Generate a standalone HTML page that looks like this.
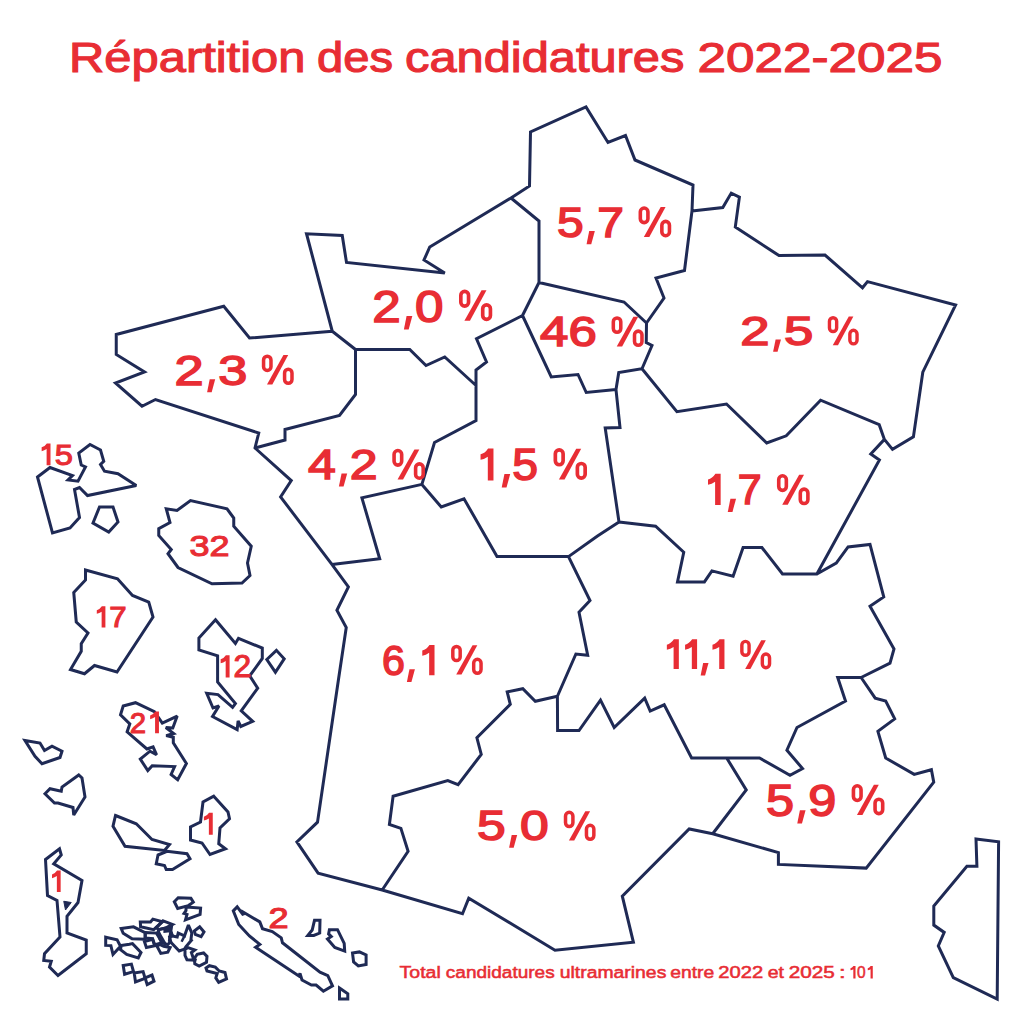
<!DOCTYPE html>
<html><head><meta charset="utf-8"><style>
html,body{margin:0;padding:0;background:#fff;width:1024px;height:1024px;overflow:hidden}
svg{display:block}
</style></head><body>
<svg width="1024" height="1024" viewBox="0 0 1024 1024">
<rect width="1024" height="1024" fill="#fff"/>
<g fill="none" stroke="#1f2a55" stroke-width="3.0" stroke-linejoin="miter" stroke-miterlimit="2.5">
<polygon points="976,839 998.6,841.75 997.2,999 953.3,977.7 938.3,946 944.2,932.4 933.8,925.1 933.8,906.1 966.9,866.2 976.9,866.2"/>
<polygon points="37.5,477 50,467.5 72.5,475.5 68,480 78,481.25 85.5,467 81.25,465 78.75,453 90,444.5 100.5,450 103.75,461.25 100.5,464.5 104.5,471.25 118,473.75 136.25,485.5 87.5,495.5 79.5,487.5 74.5,489.5 79.5,517.5 70,528 52.5,533"/>
<polygon points="93,523 99.5,507 113,507 118,522 108.75,532"/>
<polygon points="166.25,508.75 170,522.5 158.75,528.75 158.75,535.5 171.25,549.5 168,553.75 178,567.5 212,583.75 242,583 250,575.5 247.5,563 251.25,546.25 233.75,526.25 233.75,518 227,508.75 190.5,500.5 177,510.5"/>
<polygon points="85.5,570 85.5,580 73.75,592.5 76.25,622 88,633 81.25,643.75 81.25,651.25 70.5,669.5 84.5,673.75 94.5,665.5 117,672 153,617 148.75,602 132.5,595.5 117.5,578.75"/>
<polygon points="215.5,619.8 235.4,643.5 238.5,638.3 262.3,648.1 262.3,658.5 249.7,675.9 257.7,688.2 241.25,710.75 252.7,721.4 240.8,726.5 238.1,721 237.15,729.6 212.5,716.5 219,706 213,708 206.7,693.25 218,694.6 232.6,707.3 235.4,703.6 217.6,682 217.6,655.8 198.9,650 198.9,638"/>
<polygon points="266.8,659.5 276.4,650.3 284.2,658.8 275.4,672.2"/>
<polygon points="123.2,706 135.5,702.7 154.4,711.7 162.3,723.1 177.2,716.1 172.8,728 165.8,727.5 173.7,733.5 166.2,735.6 173.3,737.2 173.3,742.9 186.4,763.5 177.7,779.8 171.1,774.5 174.6,766.6 152.2,765.7 147.8,770.6 140.3,759.1 150,751.2 156.6,754.8 153.1,746.8 146.9,749 127.1,731.9 129.8,724 120.5,714.8"/>
<polygon points="25,740.5 40,743 44.5,750.5 52,746.25 62,751.25 60,757.5 42,763.75 35,756.25"/>
<polygon points="45,793.75 50,788.75 61.25,791.25 62,787 78.75,775 82,778 85,797 73.75,815 73,807.5 58,803 54.5,803"/>
<polygon points="115.5,815.5 136.25,823.75 152,839.5 169.5,844.5 164.5,850.5 125,846.25 113,826.25"/>
<polygon points="158,855 167,851.25 187,853.75 190,858.75 172.5,869.5 166.25,869.5 164.5,865.5 156.25,863.75"/>
<polygon points="213.75,796.25 228,812 229.5,818.75 220,828 218.75,843.75 225.5,848.75 210,854.5 202,843 190.5,840 190.5,827 200.5,822 203,802"/>
<polygon points="45.5,859.5 59.5,848.75 61.25,855 53.75,863.75 82,880.5 78,902.5 67,916.25 67,933 86.25,940 86.25,953.75 58,975.5 49.5,967 51.25,961.25 43.75,960.5 44.5,953.75 60,937 57,900.5 47.5,895.5"/>
<polygon points="233.3,910.9 237.2,906.9 243.4,915.2 243.1,912 259.8,921.9 262.5,928.75 272.3,931.6 281.25,937.8 282.5,942.8 320,972.2 327.8,975.6 332.5,985.9 323.4,991.25 316.1,985 311.4,985 302,980 300,973.4 298.9,976.1 255.6,947.2 259.8,944.4 249.4,935.9 238.75,924.5"/>
<polygon points="314.5,920.3 320,920.3 319.7,933.1 313.75,935.5 307.8,935.5 312.2,930"/>
<polygon points="329.4,929.7 337.5,929.7 344.2,943.3 344.7,951.1 334.8,947.5 327.5,939 331.25,936.6 328.6,933.9"/>
<polygon points="352.5,953.1 359.4,951.9 366.1,955 366.1,964.4 358.3,965.9 353.6,962"/>
<polygon points="339.5,988.1 347.8,993.75 347.8,999 339.5,999"/>
<polygon points="174.3,901.7 178.2,897.8 190.9,898.3 193.3,902.2 188.4,905.6 177.7,908.5"/>
<polygon points="186,907.1 200.6,908.1 200.1,914.4 185.5,919.8 187,914.4 184,913.4 186,910.5"/>
<polygon points="105.7,937.2 117.1,939.9 120.5,946.3 113,954.5 110.9,945.6 105.7,945.4"/>
<polygon points="121.2,945.6 129.4,944.3 132.5,943.6 141,952.5 138.3,957.9 126.7,954.5 120.5,949.7"/>
<polygon points="121.2,928.5 133.5,926.8 145.1,932.6 145.1,939.3 132.1,938.8 123.2,933.3"/>
<polygon points="140.3,922 150.5,922 152.9,919.1 162.5,921.7 153.7,929.6 140.6,926.7"/>
<polygon points="163.1,920.8 172.5,924.4 166,927.9 158.4,929.6 156.4,927.6"/>
<polygon points="145.3,932.6 156.4,933.1 159.3,937.8 162,942.8 154.3,944.9 152.6,938.7 145.3,938.1"/>
<polygon points="144.4,941.6 152.6,939.3 155.2,945.7 146.4,947.5"/>
<polygon points="156.7,945.7 160.2,944.6 163.7,946.3 170.1,947.5 167.8,952.2 160.8,953.4"/>
<polygon points="158.4,929.6 164.9,928.2 164.9,931.4 170.1,930.8 172.5,935.8 169.6,937 170.7,941.6 167.8,944.6 162,942.8 159.3,937.8"/>
<polygon points="169.4,940.8 179.2,951 184.5,949.1 186,946.6 191.4,940.3 190.9,939.8 191.8,933 188.4,925.1 184.5,935.9 178.2,933 177.2,936.9 172.3,935.9 170.9,931 166,929 171.8,924.7"/>
<polygon points="194.3,931 199.7,926.9 204,932 201.1,936.7 195.3,934.4"/>
<polygon points="185,949.6 188,947.6 194.8,950 191.4,952.5 193.3,958.3 196.2,960.3 187,959.8 185,955.4"/>
<polygon points="194.3,958.3 197.2,954.4 203.6,953 207,956.4 206.5,962.2 199.2,966.1 194.8,963.7"/>
<polygon points="206,968.1 209.4,965.7 215.3,967.1 219.2,971 225,972.5 226.5,978.8 218.7,982.3 215.8,977.9 217.2,973.5 207,971"/>
<polygon points="123.2,965.4 131.4,964.1 133.5,971.6 124.6,974.3"/>
<polygon points="134.2,973 143.1,971.6 145.1,978.4 135.5,981.9"/>
<polygon points="145.1,977.8 152,975 154,981.2 147.2,984.6"/>
<path d="M511,198 L529.5,186 L530.5,132 L586,107 L608,142.5 L625.5,135.5 L635,160 L693,185 L692,211 L684.5,270.5 L656,278 L664,298 L646.5,323 M511,198 L539,221 L539,282.5 M539,282.5 L624,302 L646.5,323 M511,198 L429.75,247 L424,260 L444.75,273 L346.5,262.5 L342.25,235.5 L306.5,233.75 L332.25,331.25 M332.25,331.25 L355.5,349.5 M355.5,349.5 L409.75,349.5 L426,365.5 L444.75,357 L476,385.5 M476,385.5 L476,370 L486.5,362 L476.5,338.75 L522.5,315.5 M522.5,315.5 L539,282.5 M332.25,331.25 L249.5,338 L223.75,306.25 L116.25,334.5 L116.25,354.5 L144.5,372 L115.5,383 L142,406.25 L155.5,399.5 L258.75,433 L255,448 M255,448 L285,440 L285,429.5 L339.5,415.5 L355.5,394.5 L355.5,349.5 M255,448 L291.25,480.6 L280.6,496.9 L331.9,564.4 M331.9,564.4 L379.7,558.75 L361.9,497.8 L421.9,484.4 M476,385.5 L476,420.5 L434.5,442.5 L421.9,484.4 M522.5,315.5 L551.25,377 L578,374.5 L586.25,392.5 L616,389.6 M646.5,323 L646.25,342.5 L652,345.5 L642,368.75 L618.75,372.5 L616,389.6 M616,389.6 L620,427.6 L605.2,428 L619,522 M619,522 L597.5,536 L568.5,556.6 M568.5,556.6 L497,556.6 L464,498.75 L441.25,507 L421.9,484.4 M692,211 L722.8,207.5 L731.25,193.1 L739.4,197.2 L735.3,226.9 L779,255.6 L825,255 L862.5,287.8 L867.5,281.6 L955.6,305 L922.8,372.2 L913.4,436.9 L892.5,449.4 L884.4,439.4 M642,368.75 L676.9,411.7 L726.5,404 L766.7,443 L786.25,435.8 L820.6,400.2 L879.2,424.7 L884.4,439.4 M884.4,439.4 L870.8,453.9 L879.4,460 L816.9,574 M619,522 L655.6,526.25 L683.75,552.2 L677.5,581.9 L704.4,581.9 L711.9,570.9 L733.1,576.25 L743.1,547.5 L761.9,547.5 L782.5,574 L816.9,574 M816.9,574 L836.25,563.1 L848.1,546.9 L870,544.4 L883.75,596.9 L870,606.25 L894,649 L890,663.1 L861.1,677.5 M861.1,677.5 L837.7,677.5 L845.5,701 L797,727.5 L786.9,750.2 L802.5,768.5 L790,775.2 L759.5,758 L726.7,758 M861.1,677.5 L875.2,698.2 L885.7,701 L894.7,718.9 L877.9,731.4 L885.7,758 L914.2,774.4 L931.4,769.7 L933.75,782.2 L866.2,868.1 L778.4,864.4 L778.4,852.6 L712.7,833.75 M726.7,758 L746.25,790 L712.7,833.75 M712.7,833.75 L689.2,829 L622.3,896.2 L633.4,942.3 L555,950.3 L468.75,898.1 L462.5,913.75 L382.2,890 M382.2,890 L408.1,851.25 L400.9,828.4 L389.4,824.4 L393.1,796.25 L447.8,780.6 L458.1,784.7 L481.25,754.4 L476.9,737.8 L510.3,704.4 L507.2,691.9 L522.8,688.75 L535.3,701.25 L557.4,696.25 M568.5,556.6 L590,600.5 L579,612.3 L587.7,655.2 L575.9,654 L557.4,696.25 M557.4,696.25 L557.6,730.6 L579,730.6 L600.5,700.2 L614.2,727.5 L644.7,698.2 L650.2,711.1 L664.2,704.8 L691.6,758 L726.7,758 M331.9,564.4 L348.4,586.9 L336.9,610.3 L346.25,627.5 L338.4,680 L317.5,822.2 L296.9,841.9 L318.1,873.1 L382.2,890" stroke-linecap="round"/>
</g>
<polygon points="63.75,901.25 71.25,902.5 65.5,910" fill="#1f2a55" stroke="#1f2a55" stroke-width="1"/>
<path d="M157.5,931 L165,944" stroke="#1f2a55" stroke-width="3.5"/>
<path d="M181.6,941.7 L184.5,935.9" stroke="#1f2a55" stroke-width="2.5"/>
<g fill="#e82d34" stroke="#e82d34" stroke-linejoin="miter" font-family="'Liberation Sans', sans-serif" font-weight="normal">
<text x="557.10" y="236.50" font-size="43.24" stroke-width="1.5" textLength="66.74" lengthAdjust="spacingAndGlyphs">5 7</text>
<text x="372.30" y="321.65" font-size="43.97" stroke-width="1.5" textLength="71.13" lengthAdjust="spacingAndGlyphs">2 0</text>
<text x="540.00" y="346.00" font-size="42.51" stroke-width="1.5" textLength="56.76" lengthAdjust="spacingAndGlyphs">46</text>
<text x="740.22" y="344.60" font-size="40.84" stroke-width="1.5" textLength="73.18" lengthAdjust="spacingAndGlyphs">2 5</text>
<text x="174.55" y="384.70" font-size="42.15" stroke-width="1.5" textLength="72.76" lengthAdjust="spacingAndGlyphs">2 3</text>
<text x="308.05" y="479.00" font-size="43.24" stroke-width="1.5" textLength="69.54" lengthAdjust="spacingAndGlyphs">4 2</text>
<text x="473.50" y="479.70" font-size="44.33" stroke-width="1.5" textLength="64.42" lengthAdjust="spacingAndGlyphs">  5</text>
<text x="701.80" y="504.30" font-size="43.31" stroke-width="1.5" textLength="59.76" lengthAdjust="spacingAndGlyphs">  7</text>
<text x="382.05" y="674.56" font-size="41.86" stroke-width="1.5" textLength="57.26" lengthAdjust="spacingAndGlyphs">6  </text>
<text x="663.28" y="668.26" font-size="40.99" stroke-width="1.5" textLength="63.88" lengthAdjust="spacingAndGlyphs">    </text>
<text x="477.00" y="840.28" font-size="42.01" stroke-width="1.5" textLength="71.83" lengthAdjust="spacingAndGlyphs">5 0</text>
<text x="766.06" y="815.80" font-size="43.46" stroke-width="1.5" textLength="70.22" lengthAdjust="spacingAndGlyphs">5 9</text>
<text x="36.54" y="464.76" font-size="30.23" stroke-width="1.1" textLength="36.40" lengthAdjust="spacingAndGlyphs"> 5</text>
<text x="189.52" y="556.28" font-size="30.23" stroke-width="1.1" textLength="40.04" lengthAdjust="spacingAndGlyphs">32</text>
<text x="92.00" y="627.06" font-size="29.36" stroke-width="1.1" textLength="34.70" lengthAdjust="spacingAndGlyphs"> 7</text>
<text x="215.88" y="676.92" font-size="30.52" stroke-width="1.1" textLength="35.24" lengthAdjust="spacingAndGlyphs"> 2</text>
<text x="129.64" y="732.74" font-size="30.09" stroke-width="1.1" textLength="32.68" lengthAdjust="spacingAndGlyphs">2 </text>
<text></text>
<text></text>
<text x="268.40" y="927.53" font-size="29.94" stroke-width="1.1" textLength="20.10" lengthAdjust="spacingAndGlyphs">2</text>
<text x="69.08" y="71.84" font-size="41.75" stroke-width="1.1" textLength="236.30" lengthAdjust="spacingAndGlyphs">Répartition</text>
<text x="317.02" y="71.84" font-size="41.75" stroke-width="1.1" textLength="75.96" lengthAdjust="spacingAndGlyphs">des</text>
<text x="405.06" y="71.84" font-size="41.75" stroke-width="1.1" textLength="279.34" lengthAdjust="spacingAndGlyphs">candidatures</text>
<text x="697.44" y="71.84" font-size="41.75" stroke-width="1.1" textLength="245.08" lengthAdjust="spacingAndGlyphs">2022-2025</text>
<text x="399.58" y="978.16" font-size="17.34" stroke-width="0.55" textLength="41.16" lengthAdjust="spacingAndGlyphs">Total</text>
<text x="445.84" y="978.16" font-size="17.34" stroke-width="0.55" textLength="108.82" lengthAdjust="spacingAndGlyphs">candidatures</text>
<text x="559.72" y="978.16" font-size="17.34" stroke-width="0.55" textLength="106.60" lengthAdjust="spacingAndGlyphs">ultramarines</text>
<text x="670.30" y="978.16" font-size="17.34" stroke-width="0.55" textLength="43.94" lengthAdjust="spacingAndGlyphs">entre</text>
<text x="718.30" y="978.16" font-size="17.34" stroke-width="0.55" textLength="44.94" lengthAdjust="spacingAndGlyphs">2022</text>
<text x="767.76" y="978.16" font-size="17.34" stroke-width="0.55" textLength="16.24" lengthAdjust="spacingAndGlyphs">et</text>
<text x="788.76" y="978.16" font-size="17.34" stroke-width="0.55" textLength="46.10" lengthAdjust="spacingAndGlyphs">2025</text>
<text x="839.06" y="978.16" font-size="17.34" stroke-width="0.55" textLength="6.62" lengthAdjust="spacingAndGlyphs">:</text>
<text x="848.48" y="978.16" font-size="17.34" stroke-width="0.55" textLength="25.88" lengthAdjust="spacingAndGlyphs"> 0 </text>
<g stroke="none"><path d="M589.21,231.00 L594.84,231.00 L591.24,244.13 L586.56,244.13 Z"/><path d="M406.59,316.05 L412.31,316.05 L408.66,329.38 L403.90,329.38 Z"/><path d="M775.63,339.43 L780.95,339.43 L777.55,351.86 L773.11,351.86 Z"/><path d="M209.70,379.35 L215.19,379.35 L211.68,392.16 L207.11,392.16 Z"/><path d="M341.56,473.50 L347.19,473.50 L343.59,486.62 L338.90,486.62 Z"/><path d="M480.54,454.21 Q484.86,453.38 488.13,448.45 L493.47,448.45 L493.47,480.45 L487.81,480.45 L487.81,456.64 Q484.45,459.11 480.54,459.75 Z"/><path d="M504.43,474.05 L510.19,474.05 L506.51,487.49 L501.71,487.49 Z"/><path d="M708.01,479.38 Q712.24,478.57 715.43,473.75 L720.65,473.75 L720.65,505.05 L715.11,505.05 L715.11,481.76 Q711.83,484.17 708.01,484.80 Z"/><path d="M730.42,498.79 L736.05,498.79 L732.45,511.94 L727.76,511.94 Z"/><path d="M409.46,669.25 L414.91,669.25 L411.43,681.98 L406.88,681.98 Z"/><path d="M422.28,650.46 Q426.37,649.68 429.46,645.01 L434.52,645.01 L434.52,675.31 L429.16,675.31 L429.16,652.77 Q425.98,655.10 422.28,655.71 Z"/><path d="M666.85,644.66 Q670.85,643.88 673.88,639.31 L678.84,639.31 L678.84,669.01 L673.59,669.01 L673.59,646.91 Q670.47,649.20 666.85,649.79 Z"/><path d="M685.09,644.66 Q689.10,643.88 692.13,639.31 L697.09,639.31 L697.09,669.01 L691.83,669.01 L691.83,646.91 Q688.72,649.20 685.09,649.79 Z"/><path d="M703.15,663.07 L708.50,663.07 L705.08,675.54 L700.63,675.54 Z"/><path d="M712.47,644.66 Q716.48,643.88 719.51,639.31 L724.46,639.31 L724.46,669.01 L719.21,669.01 L719.21,646.91 Q716.09,649.20 712.47,649.79 Z"/><path d="M511.69,834.95 L517.16,834.95 L513.67,847.72 L509.11,847.72 Z"/><path d="M799.91,810.27 L805.57,810.27 L801.96,823.46 L797.25,823.46 Z"/><path d="M41.65,447.35 Q44.61,446.78 46.84,443.41 L50.50,443.41 L50.50,465.31 L46.62,465.31 L46.62,449.02 Q44.32,450.70 41.65,451.14 Z"/><path d="M96.79,610.14 Q99.67,609.59 101.84,606.31 L105.40,606.31 L105.40,627.61 L101.63,627.61 L101.63,611.76 Q99.39,613.40 96.79,613.83 Z"/><path d="M220.65,659.35 Q223.64,658.77 225.89,655.37 L229.58,655.37 L229.58,677.47 L225.67,677.47 L225.67,661.03 Q223.35,662.73 220.65,663.17 Z"/><path d="M150.13,715.41 Q153.07,714.85 155.30,711.49 L158.94,711.49 L158.94,733.29 L155.08,733.29 L155.08,717.07 Q152.79,718.75 150.13,719.19 Z"/><path d="M203.90,816.74 Q206.86,816.17 209.09,812.80 L212.75,812.80 L212.75,834.70 L208.87,834.70 L208.87,818.41 Q206.57,820.09 203.90,820.53 Z"/><path d="M52.00,874.45 Q54.89,873.90 57.07,870.60 L60.65,870.60 L60.65,892.00 L56.86,892.00 L56.86,876.08 Q54.61,877.73 52.00,878.15 Z"/><path d="M850.48,968.20 Q852.16,967.88 853.44,965.96 L855.52,965.96 L855.52,978.44 L853.31,978.44 L853.31,969.15 Q852.00,970.11 850.48,970.36 Z"/><path d="M867.73,968.20 Q869.41,967.88 870.68,965.96 L872.77,965.96 L872.77,978.44 L870.56,978.44 L870.56,969.15 Q869.25,970.11 867.73,970.36 Z"/><path stroke="none" d="M660.69,206.88 L665.56,206.88 L649.31,237.06 L643.81,237.06 Z"/><path stroke="none" d="M481.52,290.13 L486.47,290.13 L469.96,320.81 L464.37,320.81 Z"/><path stroke="none" d="M633.36,316.87 L638.15,316.87 L622.16,346.57 L616.75,346.57 Z"/><path stroke="none" d="M848.75,316.59 L853.36,316.59 L837.97,345.19 L832.76,345.19 Z"/><path stroke="none" d="M283.44,355.11 L288.20,355.11 L272.34,384.57 L266.97,384.57 Z"/><path stroke="none" d="M414.44,449.38 L419.31,449.38 L403.06,479.56 L397.56,479.56 Z"/><path stroke="none" d="M576.18,448.64 L581.18,448.64 L564.54,479.55 L558.90,479.55 Z"/><path stroke="none" d="M799.12,474.63 L804.00,474.63 L787.73,504.86 L782.22,504.86 Z"/><path stroke="none" d="M472.56,645.31 L477.29,645.31 L461.53,674.58 L456.20,674.58 Z"/><path stroke="none" d="M761.21,640.29 L765.84,640.29 L750.40,668.98 L745.17,668.98 Z"/><path stroke="none" d="M585.32,811.21 L590.07,811.21 L574.26,840.57 L568.91,840.57 Z"/><path stroke="none" d="M873.89,784.63 L878.79,784.63 L862.46,814.96 L856.93,814.96 Z"/></g>
<g fill="none"><rect x="640.33" y="208.05" width="7.59" height="14.56" rx="3.80" ry="3.80" fill="none" stroke-width="3.59"/><rect x="661.86" y="221.36" width="7.59" height="14.34" rx="3.80" ry="3.80" fill="none" stroke-width="3.59"/><rect x="460.83" y="291.33" width="7.72" height="14.80" rx="3.86" ry="3.86" fill="none" stroke-width="3.65"/><rect x="482.71" y="304.85" width="7.72" height="14.57" rx="3.86" ry="3.86" fill="none" stroke-width="3.65"/><rect x="613.32" y="318.02" width="7.47" height="14.33" rx="3.74" ry="3.74" fill="none" stroke-width="3.54"/><rect x="634.51" y="331.12" width="7.47" height="14.11" rx="3.74" ry="3.74" fill="none" stroke-width="3.54"/><rect x="829.46" y="317.70" width="7.19" height="13.79" rx="3.60" ry="3.60" fill="none" stroke-width="3.40"/><rect x="849.86" y="330.31" width="7.19" height="13.59" rx="3.60" ry="3.60" fill="none" stroke-width="3.40"/><rect x="263.57" y="356.25" width="7.41" height="14.21" rx="3.71" ry="3.71" fill="none" stroke-width="3.51"/><rect x="284.58" y="369.25" width="7.41" height="14.00" rx="3.71" ry="3.71" fill="none" stroke-width="3.51"/><rect x="394.08" y="450.55" width="7.59" height="14.56" rx="3.80" ry="3.80" fill="none" stroke-width="3.59"/><rect x="415.61" y="463.86" width="7.59" height="14.34" rx="3.80" ry="3.80" fill="none" stroke-width="3.59"/><rect x="555.34" y="449.84" width="7.78" height="14.91" rx="3.89" ry="3.89" fill="none" stroke-width="3.68"/><rect x="577.38" y="463.47" width="7.78" height="14.69" rx="3.89" ry="3.89" fill="none" stroke-width="3.68"/><rect x="778.73" y="475.80" width="7.61" height="14.59" rx="3.80" ry="3.80" fill="none" stroke-width="3.60"/><rect x="800.29" y="489.13" width="7.61" height="14.37" rx="3.80" ry="3.80" fill="none" stroke-width="3.60"/><rect x="452.82" y="646.44" width="7.36" height="14.12" rx="3.68" ry="3.68" fill="none" stroke-width="3.48"/><rect x="473.69" y="659.35" width="7.36" height="13.91" rx="3.68" ry="3.68" fill="none" stroke-width="3.48"/><rect x="741.86" y="641.41" width="7.22" height="13.84" rx="3.61" ry="3.61" fill="none" stroke-width="3.42"/><rect x="762.33" y="654.06" width="7.22" height="13.63" rx="3.61" ry="3.61" fill="none" stroke-width="3.42"/><rect x="565.52" y="812.35" width="7.39" height="14.17" rx="3.69" ry="3.69" fill="none" stroke-width="3.50"/><rect x="586.46" y="825.30" width="7.39" height="13.95" rx="3.69" ry="3.69" fill="none" stroke-width="3.50"/><rect x="853.43" y="785.81" width="7.63" height="14.63" rx="3.82" ry="3.82" fill="none" stroke-width="3.61"/><rect x="875.06" y="799.18" width="7.63" height="14.41" rx="3.82" ry="3.82" fill="none" stroke-width="3.61"/></g>
</g>
</svg>
</body></html>
